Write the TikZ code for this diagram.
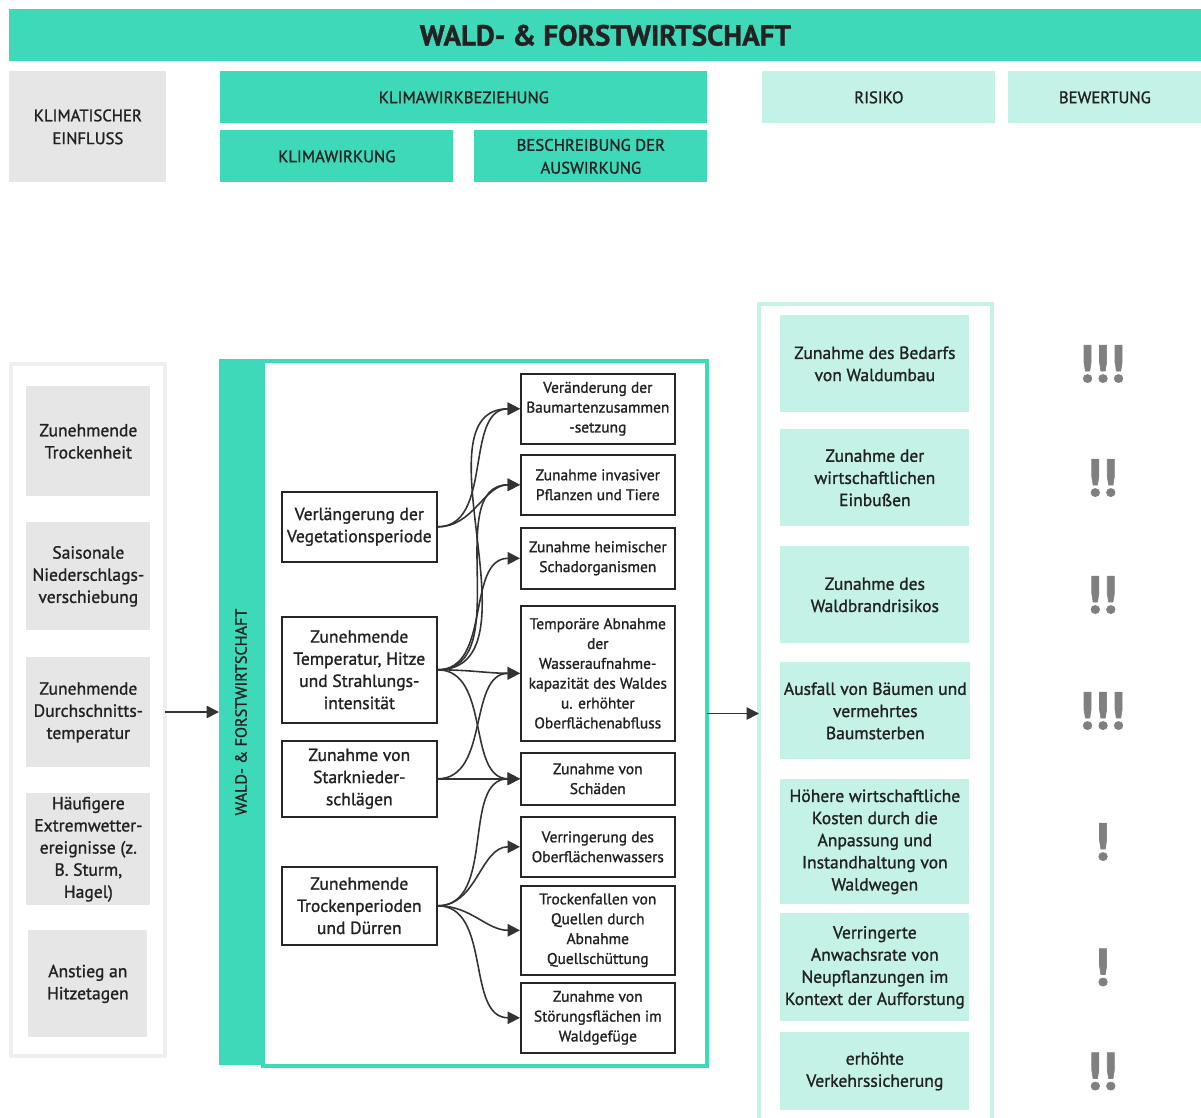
\documentclass[tikz,border=0pt]{standalone}
\usepackage{fontspec}
\setmainfont{PT Sans}[FakeBold=1.2]
\usetikzlibrary{arrows.meta}
\definecolor{tuerkis}{HTML}{3DD9B9}
\definecolor{hell}{HTML}{C4F2E7}
\definecolor{grau}{HTML}{E6E6E6}
\definecolor{rahmengrau}{HTML}{EFEFEF}
\definecolor{ausrufgrau}{HTML}{808080}
\definecolor{linie}{HTML}{333333}
\definecolor{schrift}{HTML}{222222}
\tikzset{groesse/.style 2 args={minimum width=#1*0.02cm, minimum height=#2*0.02cm}}

\begin{document}
\begin{tikzpicture}[x=0.02cm, y=-0.02cm, text=schrift]
   \useasboundingbox (0,0) rectangle (1201,1117);
   \tikzstyle{kopf}=[anchor=north west, inner sep=0pt, align=center, font=\fontsize{9.5}{13}\selectfont]
   \tikzstyle{einfluss}=[anchor=north west, fill=grau, inner sep=2pt, align=center, font=\fontsize{10}{12.6}\selectfont]
   \tikzstyle{quelle}=[anchor=north west, draw=black!85, line width=0.9pt, fill=white, inner sep=1pt, align=center, font=\fontsize{10}{12.6}\selectfont]
   \tikzstyle{ziel}=[quelle, font=\fontsize{8.8}{11.3}\selectfont]
   \tikzstyle{risk}=[anchor=north west, fill=hell, inner sep=2pt, align=center, font=\fontsize{10}{12.6}\selectfont]
   \tikzstyle{rahmen}=[anchor=north west, outer sep=0pt, line width=2.3pt]
   \tikzstyle{pfeil}=[draw=linie, line width=0.9pt, -{Triangle[length=7pt,width=7pt]}]
   \tikzstyle{ausruf}=[text=ausrufgrau, font=\fontsize{30}{30}\selectfont\bfseries]

   \node[kopf, fill=tuerkis, groesse={1192}{52}, font=\fontsize{16.5}{18}\selectfont\bfseries] (titel) at (9,9) {WALD- \& FORSTWIRTSCHAFT};
   \node[kopf, fill=grau, groesse={157}{111}] (hklima) at (9,71) {KLIMATISCHER\\EINFLUSS};
   \node[kopf, fill=tuerkis, groesse={487}{52}] (hbez) at (220,71) {KLIMAWIRKBEZIEHUNG};
   \node[kopf, fill=tuerkis, groesse={233}{52}] (hwirk) at (220,130) {KLIMAWIRKUNG};
   \node[kopf, fill=tuerkis, groesse={233}{52}] (hbeschr) at (474,130) {BESCHREIBUNG DER\\AUSWIRKUNG};
   \node[kopf, fill=hell, groesse={233}{52}] (hrisiko) at (762,71) {RISIKO};
   \node[kopf, fill=hell, groesse={193}{52}] (hbewert) at (1008,71) {BEWERTUNG};

   \node[rahmen, draw=rahmengrau, groesse={154}{692}] (linksrahmen) at (11,364) {};
   \foreach \i/\x/\y/\w/\h/\txt in {1/26/386/124/110/{Zunehmende\\Trockenheit},
       2/26/522/124/108/{Saisonale\\Niederschlags-\\verschiebung},
       3/26/657/124/110/{Zunehmende\\Durchschnitts-\\temperatur},
       4/26/793/124/110/{Häufigere\\Extremwetter-\\ereignisse (z.\\B. Sturm,\\Hagel)},
       5/28/930/119/107/{Anstieg an\\Hitzetagen}} {
       \node[einfluss, groesse={\w}{\h}] (ein\i) at (\x,\y) {\txt};
   }

   \node[rahmen, fill=tuerkis, groesse={44}{706}] (band) at (219,359) {};
   \node[rotate=90, font=\fontsize{9.2}{10}\selectfont] (bandtext) at (band.center) {WALD- \& FORSTWIRTSCHAFT};
   \node[rahmen, draw=tuerkis, groesse={444}{705}] (mitterahmen) at (263,361) {};

   \foreach \i/\y/\h/\txt in {1/491/70/{Verlängerung der\\Vegetationsperiode},
       2/616/106/{Zunehmende\\Temperatur, Hitze\\und Strahlungs-\\intensität},
       3/740/76/{Zunahme von\\Starknieder-\\schlägen},
       4/866/78/{Zunehmende\\Trockenperioden\\und Dürren}} {
       \node[quelle, groesse={155}{\h}] (wirk\i) at (281,\y) {\txt};
   }
   \foreach \i/\y/\h/\txt in {1/373/70/{Veränderung der\\Baumartenzusammen\\-setzung},
       2/454/60/{Zunahme invasiver\\Pflanzen und Tiere},
       3/527/61/{Zunahme heimischer\\Schadorganismen},
       4/605/135/{Temporäre Abnahme\\der\\Wasseraufnahme-\\kapazität des Waldes\\u. erhöhter\\Oberflächenabfluss},
       5/752/52/{Zunahme von\\Schäden},
       6/816/60/{Verringerung des\\Oberflächenwassers},
       7/885/89/{Trockenfallen von\\Quellen durch\\Abnahme\\Quellschüttung},
       8/982/70/{Zunahme von\\Störungsflächen im\\Waldgefüge}} {
       \node[ziel, groesse={154}{\h}] (ausw\i) at (520,\y) {\txt};
   }
   \foreach \a/\b in {1/1, 1/2, 2/1, 2/2, 2/3, 2/4, 2/5, 3/4, 3/5, 4/5, 4/6, 4/7, 4/8} {
       \draw[pfeil] (wirk\a.east) to[out=0, in=180] (ausw\b.west);
   }

   \node[rahmen, draw=hell, line width=2.8pt, groesse={233}{830}] (rechtsrahmen) at (759,304) {};
   \foreach \i/\y/\h/\txt in {1/315/97/{Zunahme des Bedarfs\\von Waldumbau},
       2/429/97/{Zunahme der\\wirtschaftlichen\\Einbußen},
       3/546/97/{Zunahme des\\Waldbrandrisikos},
       4/662/97/{Ausfall von Bäumen und\\vermehrtes\\Baumsterben},
       5/779/125/{Höhere wirtschaftliche\\Kosten durch die\\Anpassung und\\Instandhaltung von\\Waldwegen},
       6/913/108/{Verringerte\\Anwachsrate von\\Neupflanzungen im\\Kontext der Aufforstung},
       7/1032/78/{erhöhte\\Verkehrssicherung}} {
       \node[risk, groesse={189}{\h}] (risk\i) at (780,\y) {\txt};
   }
   \coordinate (bewspalte) at (1102,0);
   \foreach \i/\m in {1/!!!, 2/!!, 3/!!, 4/!!!, 5/!, 6/!, 7/!!} {
       \node[ausruf] (bew\i) at (bewspalte |- risk\i) {\m};
   }

   \draw[pfeil] (linksrahmen.east |- band.center) -- (band.west);
   \draw[pfeil] (mitterahmen.east) -- (mitterahmen.east -| rechtsrahmen.west);
\end{tikzpicture}
\end{document}
